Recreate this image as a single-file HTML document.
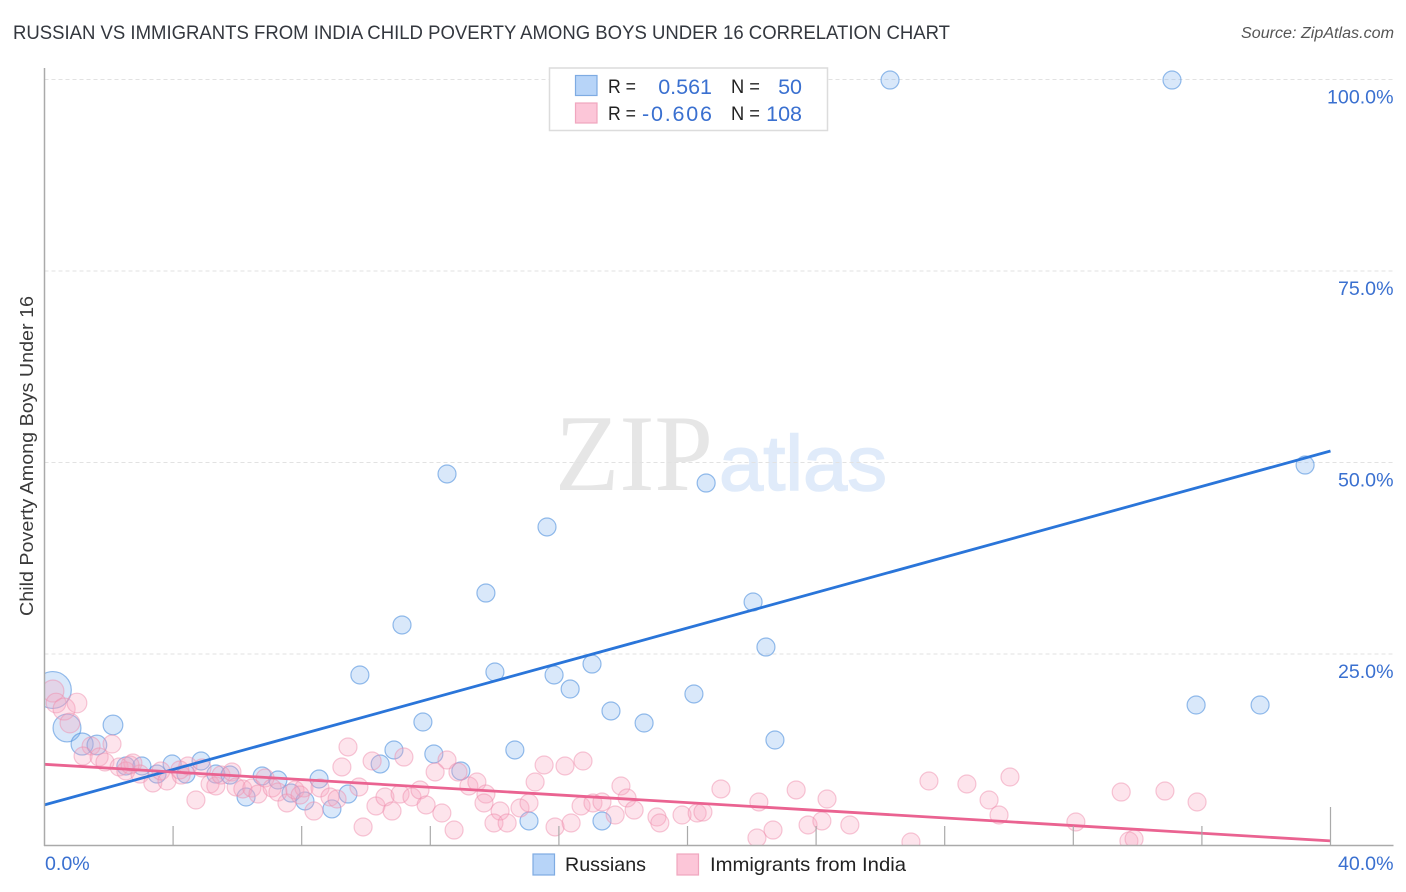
<!DOCTYPE html>
<html lang="en">
<head>
<meta charset="utf-8">
<title>Russian vs Immigrants from India Child Poverty Among Boys Under 16 Correlation Chart</title>
<style>
html,body{margin:0;padding:0;background:#fff;}
body{width:1406px;height:892px;overflow:hidden;}
svg{display:block;font-family:"Liberation Sans",sans-serif;}
</style>
</head>
<body>
<svg id="chart" width="1406" height="892" viewBox="0 0 1406 892" xmlns="http://www.w3.org/2000/svg">
  <defs>
    <clipPath id="plot-clip"><rect x="44.5" y="60" width="1349" height="785.5"/></clipPath>
  </defs>
  <rect x="0" y="0" width="1406" height="892" fill="#fff"/>
  <text x="13" y="39" font-size="19.5" fill="#33373e" textLength="937" lengthAdjust="spacingAndGlyphs">RUSSIAN VS IMMIGRANTS FROM INDIA CHILD POVERTY AMONG BOYS UNDER 16 CORRELATION CHART</text>
  <text x="1394" y="38" font-size="15.5" font-style="italic" fill="#555" text-anchor="end" textLength="153" lengthAdjust="spacingAndGlyphs">Source: ZipAtlas.com</text>
  <text transform="translate(33,456) rotate(-90)" font-size="18.5" fill="#3a3a3a" text-anchor="middle" textLength="320" lengthAdjust="spacingAndGlyphs">Child Poverty Among Boys Under 16</text>
  <g>
    <text x="555" y="490" font-family="'Liberation Serif',serif" font-size="109" fill="#e6e6e6" textLength="158" lengthAdjust="spacingAndGlyphs">ZIP</text>
    <text x="719" y="490" font-size="78" fill="#e0ebfa" stroke="#e0ebfa" stroke-width="1.5" textLength="168" lengthAdjust="spacingAndGlyphs">atlas</text>
  </g>
  <g id="grid"></g>
  <g id="points-russians" clip-path="url(#plot-clip)"></g>
  <g id="points-india" clip-path="url(#plot-clip)"></g>
  <g id="trends"></g>
  <g id="axes"></g>
  <g id="tick-labels"></g>

  <g>
    <rect x="549.5" y="68" width="278" height="62.5" fill="#fff" stroke="#dcdcdc" stroke-width="1.5"/>
    <rect x="575.5" y="75.5" width="21.5" height="20" fill="#b7d4f8" stroke="#7eabe2" stroke-width="1.2"/>
    <rect x="575.5" y="103" width="21.5" height="20" fill="#fcc6d8" stroke="#f0a6bf" stroke-width="1.2"/>
    <text x="608" y="93" font-size="19" fill="#222" textLength="28" lengthAdjust="spacingAndGlyphs">R =</text>
    <text x="712" y="94" font-size="21.5" fill="#3a70d0" text-anchor="end">0.561</text>
    <text x="731" y="93" font-size="19" fill="#222" textLength="29" lengthAdjust="spacingAndGlyphs">N =</text>
    <text x="802" y="94" font-size="21.5" fill="#3a70d0" text-anchor="end">50</text>
    <text x="608" y="120" font-size="19" fill="#222" textLength="28" lengthAdjust="spacingAndGlyphs">R =</text>
    <text x="642" y="121" font-size="21.5" fill="#3a70d0" textLength="70" lengthAdjust="spacing">-0.606</text>
    <text x="731" y="120" font-size="19" fill="#222" textLength="29" lengthAdjust="spacingAndGlyphs">N =</text>
    <text x="802" y="121" font-size="21.5" fill="#3a70d0" text-anchor="end">108</text>
  </g>

  <g>
    <rect x="533" y="854" width="21.5" height="21" fill="#b7d4f8" stroke="#7eabe2" stroke-width="1.2"/>
    <text x="565" y="871" font-size="19.5" fill="#222" textLength="81" lengthAdjust="spacingAndGlyphs">Russians</text>
    <rect x="677" y="854" width="21.5" height="21" fill="#fcc6d8" stroke="#f0a6bf" stroke-width="1.2"/>
    <text x="710" y="871" font-size="19.5" fill="#222" textLength="196" lengthAdjust="spacingAndGlyphs">Immigrants from India</text>
  </g>
</svg>
<script>
var xTickValues = [4, 8, 12, 16, 20, 24, 28, 32, 36, 40];
var yGridValues = [100, 75, 50, 25];
var yTickLabels = ["100.0%", "75.0%", "50.0%", "25.0%"];
var xTickLabels = ["0.0%", "40.0%"];

var russiansX = [0.26,0.70,2.13,1.17,1.63,2.53,3.03,3.50,3.97,4.40,4.87,5.33,5.77,6.27,6.77,7.26,7.67,8.10,8.54,8.94,9.44,9.81,11.77,10.87,10.44,12.11,12.95,14.01,14.63,15.07,15.85,16.35,17.03,17.62,18.65,17.34,20.20,22.44,22.72,35.82,37.81,26.30,35.07,39.21,12.52,20.58,15.63,13.73,11.12,22.04];
var russiansY = [20.30,15.34,15.73,13.25,13.12,10.38,10.38,9.33,10.64,9.33,11.03,9.33,9.20,6.33,9.07,8.55,6.85,5.81,8.68,4.77,6.72,22.26,16.12,12.47,10.64,11.95,9.73,22.65,12.47,3.20,22.26,20.43,23.69,17.56,15.99,3.20,19.78,25.91,13.77,18.34,18.34,99.93,99.93,49.67,48.50,47.32,41.58,32.96,28.79,31.79];
var russiansWeight = [4.2,2.4,1.2,1.5,1.2];

var indiaX = [0.26,0.36,0.61,1.01,0.79,1.45,2.10,1.20,1.70,1.88,2.32,2.75,2.53,2.97,3.37,3.62,3.81,4.25,4.46,4.71,4.90,5.15,5.33,5.49,5.83,5.96,6.17,6.45,6.64,6.86,7.08,7.26,7.54,7.79,8.07,8.38,8.57,8.88,9.10,9.25,9.44,10.19,9.78,10.31,10.59,10.81,9.91,11.06,11.18,11.43,11.68,11.87,12.36,12.74,12.52,12.15,12.86,13.20,13.45,13.73,13.67,14.17,13.98,14.39,14.79,15.07,15.26,15.54,16.19,16.75,15.88,16.38,16.69,17.06,17.34,17.75,17.93,18.12,18.34,19.05,19.14,19.83,20.30,20.48,21.04,22.22,22.16,22.66,23.38,24.34,23.75,24.18,25.05,26.95,27.51,28.69,29.38,29.69,30.03,32.08,33.49,34.85,35.85,33.73,33.89,2.66,4.21,7.95];
var indiaY = [20.17,18.60,17.82,18.60,15.99,12.99,13.25,11.68,11.55,10.90,10.25,10.77,9.73,9.33,8.16,9.73,8.42,9.20,10.38,5.94,10.12,8.03,7.77,9.20,9.60,7.64,7.38,7.51,6.72,8.81,7.51,6.98,5.55,7.25,7.51,4.50,7.51,6.33,6.07,10.25,12.86,11.03,7.64,5.16,6.33,4.50,2.42,6.72,11.55,6.33,7.25,5.29,4.24,2.02,11.16,9.60,9.60,7.77,8.29,6.72,5.55,4.50,2.94,2.94,4.90,5.55,8.29,10.51,10.38,11.03,2.42,2.94,5.16,5.55,5.68,3.98,7.77,6.20,4.63,3.72,2.94,3.98,4.24,4.37,7.38,5.68,0.98,2.02,7.25,6.07,2.68,3.20,2.68,0.46,8.42,8.03,5.94,3.98,8.94,3.07,6.98,7.11,5.68,0.59,0.85,10.51,9.86,6.59];
var indiaWeight = [1.5,1.2,1.5,1.2,1.2];

var trendXDomain = [0, 40];
var russiansTrendY = [5.3, 51.5];
var indiaTrendY = [10.6, 0.6];

var NS = "http://www.w3.org/2000/svg";
function xScale(v) { return 44.5 + v * 32.15; }
function yScale(v) { return 845.5 - v * 7.66; }
function make(tag, parentId, attrs) {
  var el = document.createElementNS(NS, tag);
  for (var k in attrs) { el.setAttribute(k, attrs[k]); }
  document.getElementById(parentId).appendChild(el);
  return el;
}

yGridValues.forEach(function (v, i) {
  var line = make("line", "grid", {x1: 44.5, x2: 1393.5, y1: yScale(v), y2: yScale(v), stroke: "#e2e2e2", "stroke-width": 1, "stroke-dasharray": "4 3"});
  
  
  var label = make("text", "tick-labels", {x: 1393.5, y: yScale(v) + 24, "font-size": 19.6, fill: "#3a70d0", "text-anchor": "end"});
  label.textContent = yTickLabels[i];
  
  
});

var yAxis = make("line", "axes", {x1: 44.5, x2: 44.5, y1: 68, y2: 846, stroke: "#aaa", "stroke-width": 1.5});


var xAxis = make("line", "axes", {x1: 44, x2: 1393.5, y1: 845.5, y2: 845.5, stroke: "#aaa", "stroke-width": 1.5});



xTickValues.forEach(function (v, i) {
  var isLast = i === xTickValues.length - 1;
  var tick = make("line", "axes", {x1: xScale(v), x2: xScale(v), y1: isLast ? 807 : 826, y2: 845.5, stroke: "#aaa", "stroke-width": 1.2});
  
  
});

var xLabelLeft = make("text", "tick-labels", {x: 45, y: 870, "font-size": 19.6, fill: "#3a70d0"});
xLabelLeft.textContent = xTickLabels[0];


var xLabelRight = make("text", "tick-labels", {x: 1393.5, y: 870, "font-size": 19.6, fill: "#3a70d0", "text-anchor": "end"});
xLabelRight.textContent = xTickLabels[1];



function radius(weights, i) {
  var w = i < weights.length ? weights[i] : 1;
  return 9 * Math.sqrt(w);
}

russiansX.forEach(function (v, i) {
  var c = make("circle", "points-russians", {cx: xScale(v), cy: yScale(russiansY[i]), r: radius(russiansWeight, i), fill: "rgba(128,178,240,0.3)", stroke: "rgba(80,145,222,0.6)", "stroke-width": 1.2});
  
  
});

indiaX.forEach(function (v, i) {
  var c = make("circle", "points-india", {cx: xScale(v), cy: yScale(indiaY[i]), r: radius(indiaWeight, i), fill: "rgba(248,165,192,0.3)", stroke: "rgba(238,140,172,0.48)", "stroke-width": 1.2});
  
  
});

var blueTrend = make("line", "trends", {x1: xScale(trendXDomain[0]), x2: xScale(trendXDomain[1]), y1: yScale(russiansTrendY[0]), y2: yScale(russiansTrendY[1]), stroke: "#2a75d9", "stroke-width": 2.8});


var pinkTrend = make("line", "trends", {x1: xScale(trendXDomain[0]), x2: xScale(trendXDomain[1]), y1: yScale(indiaTrendY[0]), y2: yScale(indiaTrendY[1]), stroke: "#ea6391", "stroke-width": 2.8});


</script>
</body>
</html>
